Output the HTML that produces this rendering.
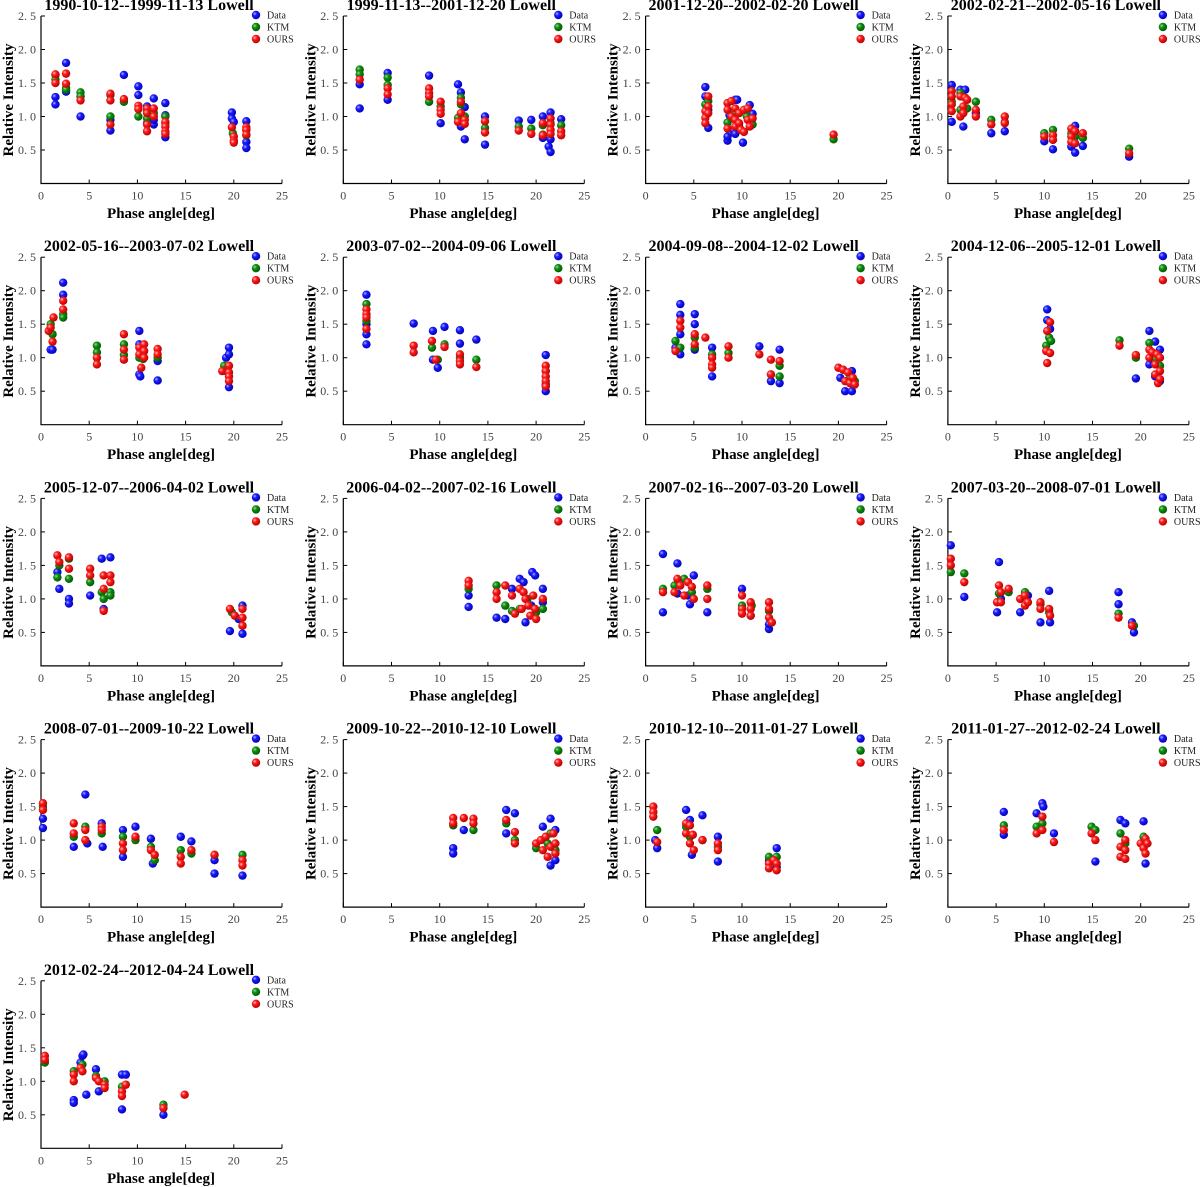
<!DOCTYPE html>
<html><head><meta charset="utf-8"><style>
html,body{margin:0;padding:0;background:#fff;}
svg{display:block;font-family:"Liberation Serif",serif;}
</style></head><body>
<svg id="chart" width="1200" height="1187" viewBox="0 0 1200 1187" xmlns="http://www.w3.org/2000/svg">
<defs>
<radialGradient id="gb" cx="0.35" cy="0.35" r="0.7"><stop offset="0" stop-color="#aab0ff"/><stop offset="0.35" stop-color="#1a1aff"/><stop offset="1" stop-color="#0000b0"/></radialGradient>
<radialGradient id="gg" cx="0.35" cy="0.35" r="0.7"><stop offset="0" stop-color="#9fd79f"/><stop offset="0.35" stop-color="#109010"/><stop offset="1" stop-color="#005500"/></radialGradient>
<radialGradient id="gr" cx="0.35" cy="0.35" r="0.7"><stop offset="0" stop-color="#ffc0c0"/><stop offset="0.35" stop-color="#ff1a1a"/><stop offset="1" stop-color="#b00000"/></radialGradient>
</defs>
</svg>
<script>
const titles = ["1990-10-12--1999-11-13 Lowell","1999-11-13--2001-12-20 Lowell","2001-12-20--2002-02-20 Lowell","2002-02-21--2002-05-16 Lowell","2002-05-16--2003-07-02 Lowell","2003-07-02--2004-09-06 Lowell","2004-09-08--2004-12-02 Lowell","2004-12-06--2005-12-01 Lowell","2005-12-07--2006-04-02 Lowell","2006-04-02--2007-02-16 Lowell","2007-02-16--2007-03-20 Lowell","2007-03-20--2008-07-01 Lowell","2008-07-01--2009-10-22 Lowell","2009-10-22--2010-12-10 Lowell","2010-12-10--2011-01-27 Lowell","2011-01-27--2012-02-24 Lowell","2012-02-24--2012-04-24 Lowell"];
const xTicks = [0,5,10,15,20,25];
const yTicks = [0.5,1.0,1.5,2.0,2.5];
const yTickLabels = ["0. 5","1. 0","1. 5","2. 0","2. 5"];
const seriesNames = ["Data","KTM","OURS"];

const p1_data=[[1.5,1.29],[1.5,1.18],[2.6,1.8],[2.6,1.37],[4.1,1.0],[4.1,1.3],[7.2,0.79],[7.2,0.95],[8.6,1.62],[10.1,1.45],[10.1,1.32],[11,1.15],[11,0.9],[11.7,1.27],[11.7,0.88],[11.7,0.95],[12.9,1.2],[12.9,1.02],[12.9,0.69],[19.8,1.06],[19.8,0.97],[20,0.92],[21.3,0.93],[21.3,0.62],[21.3,0.53]];
const p1_ktm=[[1.5,1.62],[1.5,1.55],[2.6,1.43],[2.6,1.4],[4.1,1.36],[4.1,1.3],[7.2,1.0],[7.2,1.32],[8.6,1.22],[10.1,1.0],[11,0.97],[11,1.08],[11.7,1.05],[12.9,1.0],[12.9,0.9],[19.9,0.75],[21.3,0.72],[21.3,0.8]];
const p1_ours=[[1.5,1.63],[1.5,1.5],[2.6,1.64],[2.6,1.49],[4.1,1.24],[7.2,1.34],[7.2,1.24],[7.2,0.88],[8.6,1.26],[10.1,1.16],[10.1,1.11],[11,1.12],[11,1.05],[11,0.88],[11,0.78],[11.7,1.12],[11.7,1.0],[12.9,0.92],[12.9,0.85],[12.9,0.78],[12.9,0.74],[19.8,0.84],[20,0.7],[20,0.64],[20,0.61],[21.3,0.84],[21.3,0.8],[21.3,0.73]];
const p2_data=[[1.7,1.48],[1.7,1.12],[4.6,1.65],[4.6,1.25],[8.9,1.61],[10.1,0.9],[11.9,1.48],[12.2,1.36],[12.2,0.85],[12.6,1.14],[12.6,0.66],[14.7,1.0],[14.7,0.58],[18.2,0.94],[19.5,0.95],[20.7,1.0],[20.7,0.68],[21.3,0.55],[21.5,1.06],[21.5,0.66],[21.5,0.47],[22.6,0.96]];
const p2_ktm=[[1.7,1.7],[1.7,1.63],[4.6,1.58],[4.6,1.47],[8.9,1.22],[10.1,1.15],[11.9,0.98],[12.2,1.28],[12.2,1.18],[12.6,1.0],[14.7,0.83],[18.2,0.85],[19.5,0.82],[20.7,0.87],[20.7,0.73],[21.5,0.9],[22.6,0.87]];
const p2_ours=[[1.7,1.55],[4.6,1.42],[4.6,1.33],[8.9,1.42],[8.9,1.35],[8.9,1.3],[10.1,1.22],[10.1,1.1],[10.1,1.04],[11.9,0.92],[12.2,1.22],[12.2,1.05],[12.6,0.95],[12.6,0.89],[14.7,0.93],[14.7,0.76],[18.2,0.79],[19.5,0.74],[20.7,0.9],[20.7,0.72],[21.5,0.97],[21.5,0.88],[21.5,0.8],[21.5,0.74],[22.6,0.78],[22.6,0.72]];
const p3_data=[[6.2,1.44],[6.2,1.3],[6.5,0.83],[6.5,1.1],[8.5,0.64],[8.5,0.7],[8.7,1.02],[9.1,0.79],[9.3,1.25],[9.3,0.74],[9.5,1.25],[10.1,0.61],[10.8,1.17],[11.1,1.04]];
const p3_ktm=[[6.2,1.18],[6.5,1.23],[8.5,0.91],[9.3,1.05],[9.7,0.85],[10.5,1.0],[11.1,0.88],[19.5,0.66]];
const p3_ours=[[6.2,1.08],[6.2,0.98],[6.2,0.9],[6.5,1.3],[6.5,1.15],[6.5,1.05],[8.5,1.2],[8.5,1.1],[8.5,0.82],[8.9,1.23],[8.9,1.0],[9.3,1.12],[9.3,0.95],[9.3,0.85],[9.7,1.05],[9.7,0.9],[9.9,0.8],[10.2,1.1],[10.2,0.77],[10.6,1.12],[10.6,0.95],[10.8,0.85],[11.1,0.97],[19.5,0.73]];
const p4_data=[[0.4,1.47],[0.4,0.92],[1.3,1.4],[1.6,0.85],[1.8,1.4],[2.9,1.05],[4.5,0.75],[5.9,0.78],[10,0.63],[10.9,0.51],[12.8,0.55],[13.2,0.86],[13.2,0.46],[14,0.56],[18.8,0.4]];
const p4_ktm=[[0.4,1.22],[1.3,1.35],[1.3,1.1],[2,1.12],[2.9,1.22],[4.5,0.95],[5.9,0.92],[10,0.75],[10.9,0.8],[12.8,0.75],[13.2,0.7],[14,0.68],[18.8,0.52]];
const p4_ours=[[0.4,1.38],[0.4,1.3],[0.4,1.18],[0.4,1.08],[1.3,1.3],[1.3,1.0],[1.6,1.15],[1.6,1.05],[1.8,1.28],[2,1.25],[2.9,1.1],[2.9,1.0],[4.5,0.88],[5.9,1.0],[5.9,0.9],[10,0.7],[10.9,0.72],[10.9,0.65],[12.8,0.82],[12.8,0.7],[12.8,0.62],[13.2,0.78],[13.2,0.6],[14,0.75],[18.8,0.45]];
const p5_data=[[1,1.12],[1.2,1.12],[2.3,2.12],[2.3,1.94],[10.2,1.4],[10.2,1.2],[10.2,0.75],[10.3,0.72],[10.6,1.1],[12.1,0.66],[12.1,0.95],[19.2,1.0],[19.5,1.15],[19.5,1.05],[19.5,0.56]];
const p5_ktm=[[1,1.5],[1.2,1.35],[2.3,1.65],[2.3,1.6],[5.8,1.18],[5.8,1.08],[8.6,1.2],[8.6,1.04],[10.2,1.0],[10.6,1.08],[10.6,0.98],[12.1,1.0],[19,0.88],[19.2,0.8]];
const p5_ours=[[0.8,1.4],[1,1.45],[1.2,1.24],[1.3,1.6],[2.3,1.85],[2.3,1.72],[5.8,1.0],[5.8,0.9],[8.6,1.35],[8.6,1.12],[8.6,0.97],[10.2,1.15],[10.2,1.05],[10.4,0.85],[10.7,1.2],[10.7,1.1],[10.7,1.0],[12.1,1.13],[12.1,1.05],[18.8,0.8],[19.5,0.88],[19.5,0.78],[19.5,0.72],[19.5,0.65]];
const p6_data=[[2.4,1.94],[2.4,1.5],[2.4,1.35],[2.4,1.2],[7.3,1.51],[9.3,1.4],[9.3,0.97],[9.8,0.85],[10.5,1.46],[12.1,1.41],[12.1,1.21],[13.8,1.27],[21,1.04],[21,0.5],[21,0.6]];
const p6_ktm=[[2.4,1.8],[2.4,1.55],[9.2,1.15],[9.8,0.97],[10.5,1.2],[12.1,1.0],[13.8,0.97],[21,0.8]];
const p6_ours=[[2.4,1.72],[2.4,1.65],[2.4,1.6],[2.4,1.43],[7.3,1.18],[7.3,1.08],[9.2,1.25],[9.6,0.97],[10.5,1.16],[12.1,1.05],[12.1,0.95],[12.1,0.9],[13.8,0.86],[21,0.88],[21,0.8],[21,0.72],[21,0.65],[21,0.57]];
const p7_data=[[3.1,1.15],[3.6,1.8],[3.6,1.64],[3.6,1.35],[3.6,1.05],[5.1,1.65],[5.1,1.5],[5.1,1.12],[6.9,1.15],[6.9,0.72],[11.8,1.17],[13,0.65],[13.9,1.12],[13.9,0.62],[20.2,0.7],[20.7,0.5],[21.4,0.5],[21.4,0.8]];
const p7_ktm=[[3.1,1.25],[3.6,1.15],[5.1,1.3],[5.1,1.15],[6.9,1.05],[8.6,1.07],[13,0.75],[13.9,0.88],[13.9,0.72],[21.2,0.7],[21.7,0.65]];
const p7_ours=[[3.1,1.1],[3.6,1.55],[3.6,1.45],[5.1,1.35],[5.1,1.2],[6.2,1.3],[6.9,1.0],[6.9,0.9],[6.9,0.85],[8.6,1.17],[8.6,1.0],[11.8,1.05],[13,0.97],[13,0.75],[13.9,0.95],[20,0.85],[20.5,0.82],[20.7,0.65],[21,0.78],[21.2,0.62],[21.5,0.7],[21.7,0.6]];
const p8_data=[[10.3,1.72],[10.3,1.56],[10.6,1.43],[19.5,0.69],[20.9,1.4],[20.9,0.9],[21.5,0.72],[21.5,1.24],[22,0.65],[22,1.12]];
const p8_ktm=[[10.2,1.18],[10.5,1.3],[10.7,1.25],[17.8,1.26],[19.5,1.0],[20.9,1.22],[21.5,0.98],[22,0.88]];
const p8_ours=[[10.2,1.1],[10.3,1.4],[10.3,0.92],[10.6,1.07],[10.6,1.53],[17.8,1.18],[19.5,1.04],[20.9,1.12],[20.9,1.0],[21.2,1.08],[21.5,0.9],[21.5,0.75],[21.7,1.05],[21.8,0.62],[22,1.0],[22,0.8],[22,0.68]];
const p9_data=[[1.7,1.4],[1.9,1.15],[2.9,1.0],[2.9,0.93],[5.1,1.05],[6.3,1.6],[6.5,0.85],[7.2,1.62],[19.6,0.52],[20.5,0.7],[20.9,0.9],[20.9,0.48]];
const p9_ktm=[[1.7,1.32],[1.9,1.5],[2.9,1.6],[2.9,1.3],[5.1,1.25],[6.3,1.1],[6.5,1.0],[7.2,1.1],[7.2,1.05],[19.8,0.8],[20.9,0.6]];
const p9_ours=[[1.7,1.65],[1.9,1.55],[2.9,1.62],[2.9,1.45],[5.1,1.45],[5.1,1.35],[6.5,1.35],[6.5,1.15],[6.5,0.82],[7.2,1.35],[7.2,1.25],[19.6,0.85],[20.1,0.75],[20.9,0.85],[20.9,0.72],[20.9,0.6]];
const p10_data=[[13,0.88],[13,1.05],[15.9,0.72],[16.8,0.7],[17.5,1.15],[18.3,1.3],[18.7,1.25],[18.9,0.65],[19.5,0.9],[19.6,1.4],[19.9,1.35],[20.7,1.15],[20.7,0.95]];
const p10_ktm=[[13,1.15],[15.9,1.2],[16.8,0.9],[17.5,0.82],[18.3,0.85],[19.1,1.0],[20,0.8],[20.7,0.85]];
const p10_ours=[[13,1.27],[13,1.2],[15.9,1.1],[15.9,1.0],[16.8,1.2],[17.5,1.05],[17.8,0.78],[18.3,1.15],[18.5,0.85],[18.7,1.1],[18.9,1.0],[19.2,0.9],[19.4,0.75],[19.7,1.05],[19.9,0.85],[20,0.7],[20.7,1.0]];
const p11_data=[[1.8,0.8],[1.8,1.67],[3.3,1.53],[3.3,1.08],[4.4,1.05],[4.6,0.92],[5,1.35],[6.4,0.8],[10,1.15],[10.9,0.75],[12.8,0.55],[12.8,0.62]];
const p11_ktm=[[1.8,1.15],[3,1.2],[4,1.3],[4.8,1.1],[6.4,1.15],[10,0.9],[11,0.9],[12.8,0.82]];
const p11_ours=[[1.8,1.1],[3,1.1],[3.3,1.3],[3.6,1.2],[4,1.05],[4.4,1.25],[4.8,1.18],[5,1.0],[6.4,1.2],[6.4,1.0],[10,1.05],[10,0.85],[10,0.78],[10.9,0.95],[10.9,0.85],[10.9,0.75],[12.8,0.95],[12.8,0.85],[12.8,0.72],[13.1,0.65]];
const p12_data=[[0.3,1.8],[1.7,1.03],[5.1,0.8],[5.3,1.55],[5.5,1.0],[7.5,0.8],[8.3,1.05],[9.6,0.65],[10.5,1.12],[10.6,0.65],[17.7,1.1],[17.7,0.92],[19.1,0.65],[19.3,0.5]];
const p12_ktm=[[0.3,1.4],[1.7,1.38],[5.3,1.08],[6.3,1.1],[8,1.1],[9.6,0.92],[10.5,0.8],[17.7,0.78],[19.3,0.6]];
const p12_ours=[[0.3,1.6],[0.3,1.5],[1.7,1.25],[5.1,0.95],[5.3,1.2],[5.5,1.1],[5.5,0.95],[6.3,1.15],[7.5,1.0],[8,1.05],[8,0.9],[8.3,0.95],[9.6,0.95],[9.6,0.85],[10.5,0.85],[10.6,0.75],[17.7,0.72],[19.1,0.6]];
const p13_data=[[0.2,1.32],[0.2,1.18],[3.4,0.9],[4.6,1.68],[4.8,0.95],[6.3,1.25],[6.4,0.9],[8.5,1.15],[8.5,0.75],[9.8,1.2],[11.4,1.02],[11.6,0.65],[14.5,1.05],[15.6,0.98],[18,0.5],[18,0.7],[20.9,0.47]];
const p13_ktm=[[0.2,1.5],[3.4,1.05],[4.6,1.2],[6.3,1.1],[8.5,1.05],[9.8,1.0],[11.4,0.9],[11.8,0.7],[14.5,0.85],[15.6,0.8],[18,0.78],[20.9,0.78]];
const p13_ours=[[0.2,1.55],[0.2,1.45],[3.4,1.25],[3.4,1.1],[4.6,1.15],[4.6,1.0],[6.3,1.2],[6.3,1.15],[8.5,0.95],[8.5,0.85],[9.8,1.05],[11.4,0.85],[11.8,0.78],[14.5,0.75],[14.5,0.65],[15.6,0.85],[18,0.78],[20.9,0.7],[20.9,0.62]];
const p14_data=[[11.4,0.88],[11.4,0.8],[12.5,1.15],[16.9,1.45],[16.9,1.1],[17.8,1.4],[20.7,1.2],[21.5,1.32],[21.5,0.62],[22,1.15],[22,0.7]];
const p14_ktm=[[11.4,1.22],[13.5,1.15],[16.9,1.25],[17.8,1.0],[20,0.88],[21.2,0.95],[21.5,1.1],[22,0.85]];
const p14_ours=[[11.4,1.33],[11.4,1.25],[12.5,1.33],[13.5,1.32],[13.5,1.25],[16.9,1.3],[17.8,1.12],[17.8,0.95],[20,0.95],[20.5,1.0],[20.7,0.85],[21,1.05],[21.2,0.75],[21.5,0.9],[21.8,1.1],[22,0.95],[22,0.8]];
const p15_data=[[1,1.0],[1.2,0.88],[4.2,1.45],[4.6,1.3],[4.8,0.78],[5.9,1.37],[7.5,1.05],[7.5,0.68],[12.8,0.7],[13.6,0.88],[13.6,0.6]];
const p15_ktm=[[1.2,1.15],[4.2,1.2],[4.6,1.05],[5.9,1.0],[7.5,0.9],[12.8,0.75],[13.6,0.75]];
const p15_ours=[[0.8,1.5],[0.8,1.42],[0.8,1.35],[1.2,0.97],[4.2,1.25],[4.2,1.1],[4.6,1.22],[4.6,0.95],[4.9,1.08],[5,0.85],[5.9,1.0],[7.5,0.95],[7.5,0.85],[12.8,0.65],[12.8,0.58],[13.3,0.7],[13.6,0.65],[13.6,0.55]];
const p16_data=[[5.8,1.42],[5.8,1.08],[9.2,1.4],[9.8,1.55],[9.9,1.5],[11,1.1],[15.3,0.68],[17.9,1.3],[18.4,1.25],[20.3,1.28],[20.5,0.65]];
const p16_ktm=[[5.8,1.22],[9.2,1.2],[9.8,1.25],[14.9,1.2],[15.3,1.15],[17.9,1.1],[18.4,0.95],[20.3,1.05]];
const p16_ours=[[5.8,1.15],[9.2,1.1],[9.8,1.35],[9.8,1.15],[11,0.97],[14.9,1.1],[15.3,1.0],[17.9,0.9],[17.9,0.75],[18.4,1.0],[18.4,0.85],[18.4,0.72],[20,0.95],[20.3,0.88],[20.5,1.02],[20.5,0.8],[20.7,0.95]];
const p17_data=[[3.4,0.72],[3.4,0.68],[4.1,1.28],[4.3,1.38],[4.4,1.4],[4.7,0.8],[5.7,1.18],[6,0.85],[8.4,1.1],[8.4,0.58],[8.8,1.1],[12.7,0.5]];
const p17_ktm=[[0.4,1.28],[3.4,1.15],[4.3,1.25],[5.7,1.08],[6.6,1.0],[8.4,0.92],[12.7,0.65]];
const p17_ours=[[0.4,1.38],[0.4,1.32],[3.4,1.1],[3.4,1.0],[4.1,1.2],[4.3,1.15],[5.7,1.05],[6,1.0],[6.6,0.95],[6.6,0.9],[8.4,0.85],[8.4,0.78],[8.8,0.95],[12.7,0.6],[14.9,0.8]];

const panelData=[[p1_data,p1_ktm,p1_ours],[p2_data,p2_ktm,p2_ours],[p3_data,p3_ktm,p3_ours],[p4_data,p4_ktm,p4_ours],[p5_data,p5_ktm,p5_ours],[p6_data,p6_ktm,p6_ours],[p7_data,p7_ktm,p7_ours],[p8_data,p8_ktm,p8_ours],[p9_data,p9_ktm,p9_ours],[p10_data,p10_ktm,p10_ours],[p11_data,p11_ktm,p11_ours],[p12_data,p12_ktm,p12_ours],[p13_data,p13_ktm,p13_ours],[p14_data,p14_ktm,p14_ours],[p15_data,p15_ktm,p15_ours],[p16_data,p16_ktm,p16_ours],[p17_data,p17_ktm,p17_ours]];

const NS="http://www.w3.org/2000/svg";
const svg=document.getElementById('chart');
const fills=["url(#gb)","url(#gg)","url(#gr)"];
function mk(tag,attrs,parent,text){const e=document.createElementNS(NS,tag);for(const k in attrs)e.setAttribute(k,attrs[k]);if(text!==undefined)e.textContent=text;parent.appendChild(e);return e;}

titles.forEach((t,i)=>{
  const c=i%4,r=Math.floor(i/4);
  const ox=c*302.3, oy=r*241.2;
  const L=ox+41,R=ox+282,T=oy+16,B=oy+183.5;
  const xs=v=>L+(R-L)*v/25;
  const ys=v=>B-(B-T)*v/2.5;
  const g=mk('g',{},svg);
  
  
  const ti=mk('text',{x:ox+149,y:oy+10,'text-anchor':'middle','font-size':'16','font-weight':'bold',fill:'#000'},g,t);
  
  
  const ax=mk('path',{d:`M${L},${T}V${B}H${R}`,stroke:'#000','stroke-width':'1.2',fill:'none'},g);
  
  
  xTicks.forEach(v=>{
    mk('line',{x1:xs(v),x2:xs(v),y1:B,y2:B-4,stroke:'#000'},g);
    const tl=mk('text',{x:xs(v),y:B+16,'text-anchor':'middle','font-size':'12',fill:'#444'},g,String(v));
    
    
  });
  yTicks.forEach((v,k)=>{
    mk('line',{x1:L,x2:L+4,y1:ys(v),y2:ys(v),stroke:'#000'},g);
    const tl=mk('text',{x:L-5,y:ys(v)+4,'text-anchor':'end','font-size':'12',fill:'#444'},g,yTickLabels[k]);
    
    
  });
  const xt=mk('text',{x:ox+161,y:oy+218,'text-anchor':'middle','font-size':'15','font-weight':'bold'},g,'Phase angle[deg]');
  
  
  const yt=mk('text',{x:0,y:0,'text-anchor':'middle','font-size':'15','font-weight':'bold',transform:`translate(${ox+13},${oy+100}) rotate(-90)`},g,'Relative Intensity');
  
  
  panelData[i].forEach((ser,s)=>{
    ser.forEach(p=>{
      const m=mk('circle',{cx:xs(p[0]),cy:ys(p[1]),r:4.2,fill:fills[s]},g);
      
      
    });
  });
  seriesNames.forEach((n,s)=>{
    const ly=oy+15+s*12;
    const lm=mk('circle',{cx:ox+256,cy:ly,r:4.2,fill:fills[s]},g);
    
    
    const lt=mk('text',{x:ox+267,y:ly+3.5,'font-size':'10',fill:'#222'},g,n);
    
    
  });
});
</script>
</body></html>
